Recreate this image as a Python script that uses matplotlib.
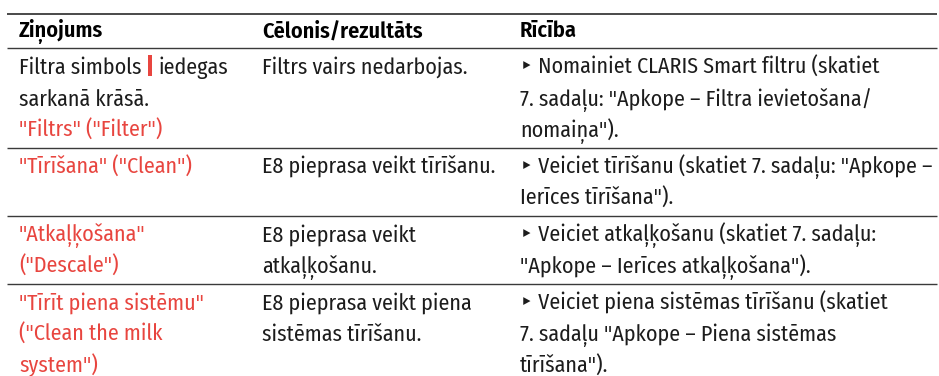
import matplotlib
matplotlib.use("Agg")
import matplotlib.pyplot as plt
from matplotlib.patches import Rectangle

# table content
headers = ["Ziņojums", "Cēlonis/rezultāts", "Rīcība"]

message_lines = [
    ["Filtra simbols", "sarkanā krāsā.", '"Filtrs" ("Filter")'],
    ['"Tīrīšana" ("Clean")'],
    ['"Atkaļķošana"', '("Descale")'],
    ['"Tīrīt piena sistēmu"', '("Clean the milk', 'system")'],
]
message_red = [
    [False, False, True],
    [True],
    [True, True],
    [True, True, True],
]
icon_after = "iedegas"  # text following the red filter symbol on row 1

cause_lines = [
    ["Filtrs vairs nedarbojas."],
    ["E8 pieprasa veikt tīrīšanu."],
    ["E8 pieprasa veikt", "atkaļķošanu."],
    ["E8 pieprasa veikt piena", "sistēmas tīrīšanu."],
]

action_lines = [
    ["‣ Nomainiet CLARIS Smart filtru (skatiet",
     '7. sadaļu: "Apkope – Filtra ievietošana/',
     'nomaiņa").'],
    ['‣ Veiciet tīrīšanu (skatiet 7. sadaļu: "Apkope –',
     'Ierīces tīrīšana").'],
    ["‣ Veiciet atkaļķošanu (skatiet 7. sadaļu:",
     '"Apkope – Ierīces atkaļķošana").'],
    ["‣ Veiciet piena sistēmas tīrīšanu (skatiet",
     '7. sadaļu "Apkope – Piena sistēmas',
     'tīrīšana").'],
]

# layout (pixels)
W, H = 939, 376
col_x = [19, 262, 520]
left, right = 7, 937
top_rule = 13.5
header_rule = 48.3
line_h = 31.7
row_pad = 4.5
first_offset = 25.5
header_base = 37.3
red = "#e8453f"
ink = "#1c1c1c"
rule_col = "#3a3a3a"
body_weight = "normal"

plt.rcParams["font.family"] = ["Fira Sans Condensed", "DejaVu Sans"]

fig = plt.figure(figsize=(W / 100, H / 100), dpi=100)
ax = fig.add_axes([0, 0, 1, 1])
ax.set_xlim(0, W)
ax.set_ylim(H, 0)
ax.axis("off")
renderer = fig.canvas.get_renderer()


def fit_size(sample, target_px, weight):
    t = ax.text(0, 0, sample, fontsize=10, fontweight=weight)
    w = t.get_window_extent(renderer).width
    t.remove()
    return 10 * target_px / w


body_size = fit_size("Filtrs vairs nedarbojas.", 205, body_weight)
head_size = fit_size("Cēlonis/rezultāts", 161, "semibold")

# rules
ax.plot([left, right], [top_rule, top_rule], color=rule_col, lw=1.3, solid_capstyle="butt")
ax.plot([left, right], [header_rule, header_rule], color=rule_col, lw=1.0, solid_capstyle="butt")

for x, h in zip(col_x, headers):
    ax.text(x, header_base, h, fontsize=head_size, fontweight="semibold", color="black", va="baseline")

row_top = header_rule
for i in range(len(message_lines)):
    n = max(len(message_lines[i]), len(cause_lines[i]), len(action_lines[i]))
    base = row_top + first_offset
    for k, (txt, is_red) in enumerate(zip(message_lines[i], message_red[i])):
        t = ax.text(col_x[0], base + k * line_h, txt, fontsize=body_size, fontweight=body_weight,
                    color=red if is_red else ink, va="baseline")
        if i == 0 and k == 0:
            bb = t.get_window_extent(renderer)
            bx = bb.x1 + 6
            ax.add_patch(Rectangle((bx, base - 19), 4.2, 21.5, color=red, lw=0))
            ax.text(bx + 10.5, base, icon_after, fontsize=body_size, fontweight=body_weight,
                    color=ink, va="baseline")
    for k, txt in enumerate(cause_lines[i]):
        ax.text(col_x[1], base + k * line_h, txt, fontsize=body_size, fontweight=body_weight,
                color=ink, va="baseline")
    for k, txt in enumerate(action_lines[i]):
        ax.text(col_x[2], base + k * line_h, txt, fontsize=body_size, fontweight=body_weight,
                color=ink, va="baseline")
    row_top = row_top + n * line_h + row_pad
    if i < len(message_lines) - 1:
        ax.plot([left, right], [row_top, row_top], color=rule_col, lw=1.0, solid_capstyle="butt")

fig.savefig("out.png", dpi=100)
